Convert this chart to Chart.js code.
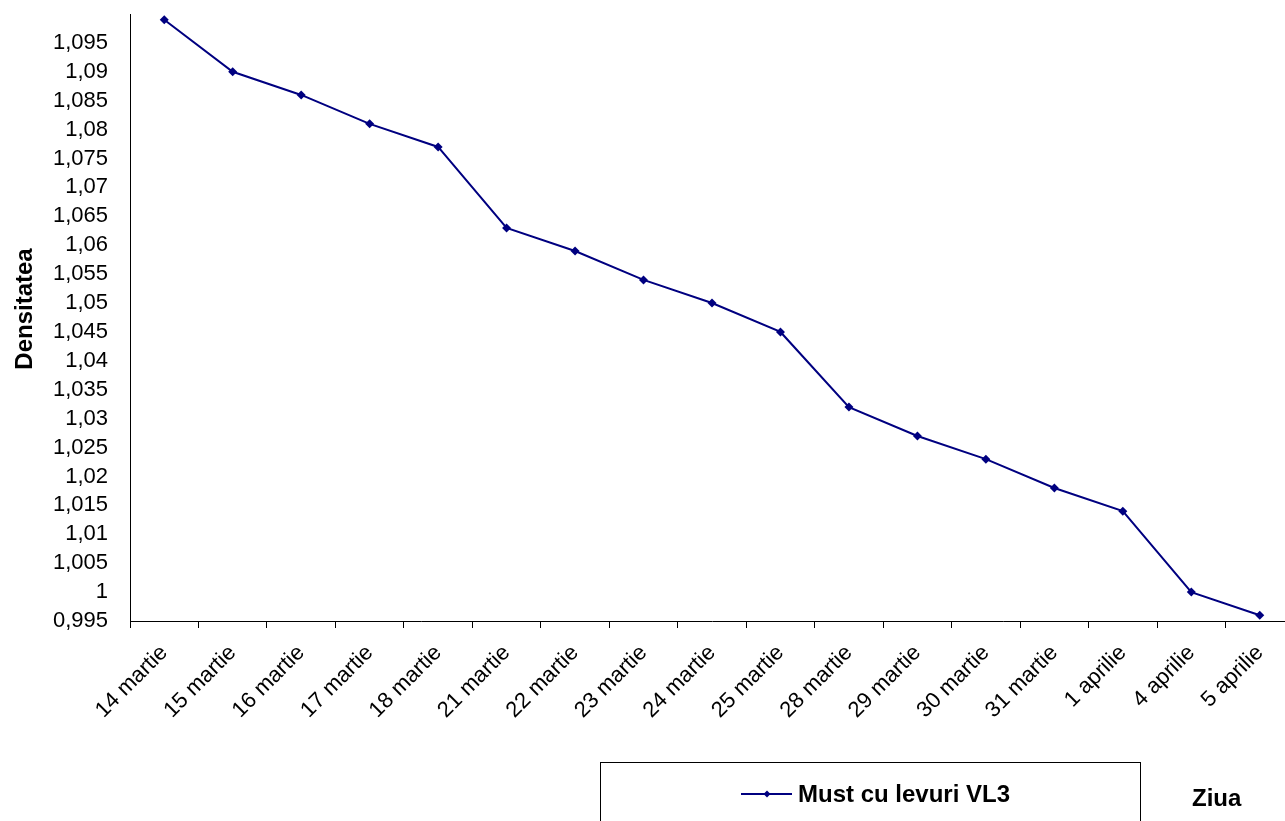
<!DOCTYPE html>
<html>
<head>
<meta charset="utf-8">
<script src="https://cdn.jsdelivr.net/npm/chart.js@4/dist/chart.umd.min.js"></script>
<style>
  html, body { margin: 0; padding: 0; background: #fff; overflow: hidden; }
  #wrap { position: relative; width: 1300px; height: 821px; }
</style>
</head>
<body>
<div id="wrap"><canvas id="c" width="1300" height="821"></canvas></div>
<script>
// Fermentation days
const days = [
  '14 martie', '15 martie', '16 martie', '17 martie', '18 martie',
  '21 martie', '22 martie', '23 martie', '24 martie', '25 martie',
  '28 martie', '29 martie', '30 martie', '31 martie',
  '1 aprilie', '4 aprilie', '5 aprilie'
];
// Must density measured on each day
const densitate = [
  1.099, 1.090, 1.086, 1.081, 1.077,
  1.063, 1.059, 1.054, 1.050, 1.045,
  1.032, 1.027, 1.023, 1.018,
  1.014, 1.000, 0.996
];
const seriesName = 'Must cu levuri VL3';
const yTitle = 'Densitatea';
const xTitle = 'Ziua';
const yMin = 0.995, yMax = 1.1, yStep = 0.005;

const FONT = '"Liberation Sans", Arial, sans-serif';
const LINE = '#000080';

function fmt(v) {
  return String(Number(v.toFixed(3))).replace('.', ',');
}

const extras = {
  id: 'extras',
  afterDraw(chart) {
    const ctx = chart.ctx;
    ctx.save();
    // y axis title
    ctx.fillStyle = '#000';
    ctx.font = 'bold 24px ' + FONT;
    ctx.textAlign = 'center';
    ctx.textBaseline = 'alphabetic';
    ctx.translate(32, 309);
    ctx.rotate(-Math.PI / 2);
    ctx.fillText(yTitle, 0, 0);
    ctx.restore();

    ctx.save();
    // legend box
    ctx.strokeStyle = '#000';
    ctx.lineWidth = 1;
    ctx.strokeRect(600.5, 762.5, 540, 80);
    ctx.strokeStyle = LINE;
    ctx.lineWidth = 2;
    ctx.beginPath();
    ctx.moveTo(741, 794);
    ctx.lineTo(792, 794);
    ctx.stroke();
    ctx.fillStyle = LINE;
    ctx.beginPath();
    ctx.moveTo(767, 790.5); ctx.lineTo(770.5, 794); ctx.lineTo(767, 797.5); ctx.lineTo(763.5, 794);
    ctx.closePath();
    ctx.fill();
    ctx.fillStyle = '#000';
    ctx.font = 'bold 24px ' + FONT;
    ctx.textAlign = 'left';
    ctx.textBaseline = 'alphabetic';
    ctx.fillText(chart.data.datasets[0].label, 798, 802);
    // x axis title
    ctx.fillText(xTitle, 1192, 806);
    ctx.restore();
  }
};

new Chart(document.getElementById('c'), {
  type: 'line',
  data: {
    labels: days,
    datasets: [{
      label: seriesName,
      data: densitate,
      borderColor: LINE,
      backgroundColor: LINE,
      borderWidth: 2,
      pointStyle: 'rectRot',
      pointRadius: 4.5,
      pointBorderWidth: 0,
      tension: 0,
      fill: false
    }]
  },
  options: {
    responsive: false,
    animation: false,
    layout: { padding: { top: 14, right: 6, left: 0, bottom: 0 } },
    plugins: { legend: { display: false }, tooltip: { enabled: false } },
    scales: {
      x: {
        type: 'category',
        offset: true,
        grid: {
          offset: true,
          drawOnChartArea: false,
          drawTicks: true,
          tickLength: 7,
          color: '#000'
        },
        border: { display: true, color: '#000', width: 1 },
        ticks: {
          color: '#000',
          font: { family: FONT, size: 22 },
          minRotation: 45,
          maxRotation: 45,
          autoSkip: false,
          padding: 12
        },
        afterFit(scale) {
          scale.height = 200;
          scale.paddingLeft = 0;
          scale.paddingRight = 0;
        }
      },
      y: {
        min: yMin,
        max: yMax,
        grid: { display: false, drawTicks: false },
        border: { display: true, color: '#000', width: 1 },
        ticks: {
          stepSize: yStep,
          autoSkip: false,
          color: '#000',
          font: { family: FONT, size: 22 },
          padding: 22,
          callback(v) {
            if (Math.abs(v - yMax) < 1e-9) return '';
            return fmt(v);
          }
        },
        afterFit(scale) {
          scale.width = 130;
          scale.paddingTop = 0;
          scale.paddingBottom = 0;
        }
      }
    }
  },
  plugins: [extras]
});
</script>
</body>
</html>
